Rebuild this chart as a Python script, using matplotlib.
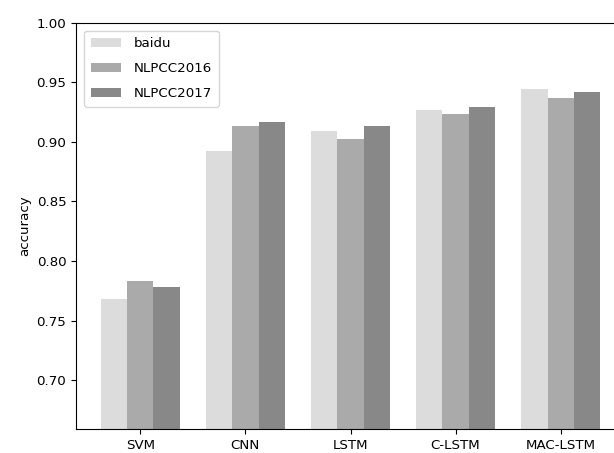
import matplotlib
matplotlib.use("Agg")
import matplotlib.pyplot as plt
import numpy as np

models = ["SVM", "CNN", "LSTM", "C-LSTM", "MAC-LSTM"]
baidu = [0.768, 0.892, 0.909, 0.927, 0.944]
nlpcc2016 = [0.783, 0.913, 0.902, 0.923, 0.937]
nlpcc2017 = [0.778, 0.917, 0.913, 0.929, 0.942]

fs = 9.6
fig = plt.figure(figsize=(6.14, 4.53), dpi=100)
# the right spine sits just past the edge of the canvas
ax = fig.add_axes([76 / 614, 24 / 453, 549 / 614, 406.3 / 453])

x = np.arange(len(models))
w = 0.25
ax.bar(x - w, baidu, w, color="#dcdcdc", label="baidu")
ax.bar(x, nlpcc2016, w, color="#aaaaaa", label="NLPCC2016")
ax.bar(x + w, nlpcc2017, w, color="#888888", label="NLPCC2017")

ax.set_xlim(-0.6125, 4.6125)
ax.set_ylim(0.659, 1.0)
ax.set_xticks(x)
ax.set_xticklabels(models, fontsize=fs)
ax.set_yticks([0.70, 0.75, 0.80, 0.85, 0.90, 0.95, 1.00])
ax.set_yticklabels(["0.70", "0.75", "0.80", "0.85", "0.90", "0.95", "1.00"], fontsize=fs)
ax.set_ylabel("accuracy", fontsize=fs)
ax.legend(loc="upper left", fontsize=fs, borderaxespad=0.6, borderpad=0.5,
          handlelength=2.25, handletextpad=1.0, labelspacing=0.9)

fig.savefig("out.png", dpi=100)
